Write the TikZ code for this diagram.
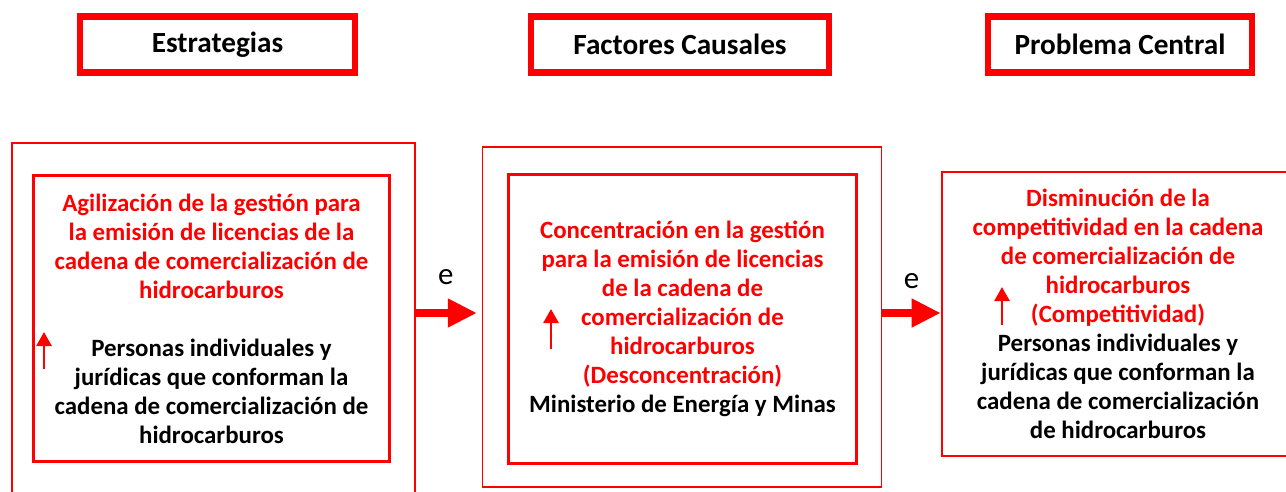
\documentclass[tikz,border=0pt]{standalone}
\usepackage{fontspec}
\setmainfont{Carlito}
\usepackage{tikz}
\usetikzlibrary{positioning}
\usetikzlibrary{arrows.meta}
\definecolor{rojo}{RGB}{255,0,0}
\tikzstyle{titlebox} = [draw=rojo,line width=4.3pt,minimum height=1.4cm,font=\fontsize{20.8}{24}\selectfont\bfseries]
\tikzstyle{outerbox} = [draw=rojo,line width=1.1pt]
\tikzstyle{innerbox} = [draw=rojo,line width=2.1pt,align=center,inner sep=0pt,font=\fontsize{17.7}{20.6}\selectfont\bfseries]
\tikzstyle{bigarrow} = [rojo,line width=5.7pt,-{Triangle[length=20.6pt,width=19.2pt]}]
\tikzstyle{smallarrow} = [rojo,line width=2pt,-{Triangle[length=10pt,width=10.7pt]}]
\tikzstyle{lbl} = [text=black,font=\fontsize{22}{24}\selectfont]

\begin{document}
\begin{tikzpicture}[x=0.025cm,y=-0.025cm]
	\clip (0,0) rectangle (1286,492);
	\useasboundingbox (0,0) rectangle (1286,492);
	
	%Titles
	\node [titlebox,minimum width=6.85cm] (estr) at (217.5,44.5) {Estrategias};
	\node [titlebox,minimum width=7.45cm] (fact) at (680,44.5) {Factores Causales};
	\node [titlebox,minimum width=6.6cm] (prob) at (1120,44.5) {Problema Central};
	
	%Boxes
	\draw [outerbox] (12,143) rectangle (415,530);
	\node [outerbox,minimum width=9.975cm,minimum height=8.5cm] (outB) at (682,317) {};
	\coordinate (outA) at (415,313);
	
	\node [innerbox,minimum width=8.9cm,minimum height=7.15cm] (estrbox) at (211.5,318.5)
		{\textcolor{rojo}{Agilización de la gestión para}\\
		 \textcolor{rojo}{la emisión de licencias de la}\\
		 \textcolor{rojo}{cadena de comercialización de}\\
		 \textcolor{rojo}{hidrocarburos}\\[20.6pt]
		 Personas individuales y\\
		 jurídicas que conforman la\\
		 cadena de comercialización de\\
		 hidrocarburos};
	\node [innerbox,minimum width=8.7cm,minimum height=7.2cm] (factbox) at (682.5,319)
		{\textcolor{rojo}{Concentración en la gestión}\\
		 \textcolor{rojo}{para la emisión de licencias}\\
		 \textcolor{rojo}{de la cadena de}\\
		 \textcolor{rojo}{comercialización de}\\
		 \textcolor{rojo}{hidrocarburos}\\
		 \textcolor{rojo}{(Desconcentración)}\\
		 Ministerio de Energía y Minas};
	\node [innerbox,line width=1.8pt,minimum width=8.8cm,minimum height=7.1cm] (probbox) at (1118,314)
		{\textcolor{rojo}{Disminución de la}\\
		 \textcolor{rojo}{competitividad en la cadena}\\
		 \textcolor{rojo}{de comercialización de}\\
		 \textcolor{rojo}{hidrocarburos}\\
		 \textcolor{rojo}{(Competitividad)}\\
		 Personas individuales y\\
		 jurídicas que conforman la\\
		 cadena de comercialización\\
		 de hidrocarburos};
	
	%Lines
	\draw [bigarrow] (outA) -- ([xshift=-0.12cm]outB.west |- outA) node [lbl,midway,above=0.5cm] (e1) {e};
	\draw [bigarrow] (outB.east |- outA) -- (probbox.west |- outA) node [lbl,midway,above=0.4cm] (e2) {e};
	
	\draw [smallarrow] (44,369) -- (44,332);
	\draw [smallarrow] (551,349) -- (551,309);
	\draw [smallarrow] (1002,325) -- (1002,287);
\end{tikzpicture}
\end{document}
